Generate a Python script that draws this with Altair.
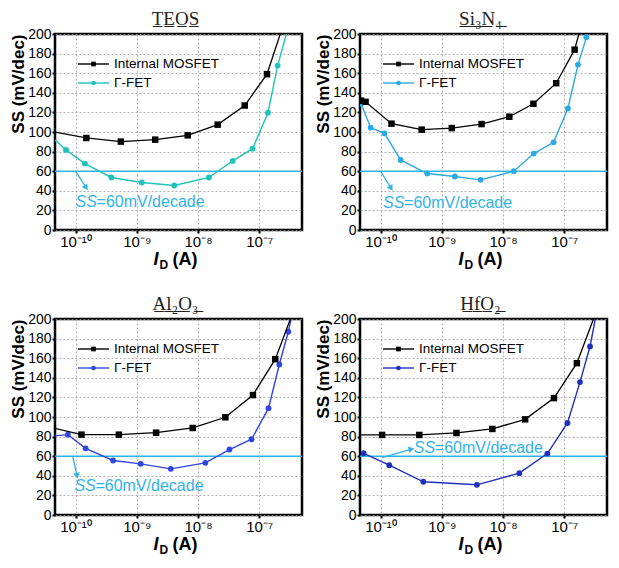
import altair as alt
import pandas as pd

# ---------------- data ----------------
X_DOMAIN = [4.62e-11, 5.0e-7]
Y_DOMAIN = [0, 200]
x_tick_values = [1e-10, 1e-9, 1e-8, 1e-7]
x_tick_labels = ["10⁻¹⁰", "10⁻⁹", "10⁻⁸", "10⁻⁷"]
y_tick_values = [0, 20, 40, 60, 80, 100, 120, 140, 160, 180, 200]

series_names = ["Internal MOSFET", "Γ-FET"]
panel_titles = ["T̲E̲O̲S̲", "S̲i̲₃̲N̲₄̲", "A̲l̲₂̲O̲₃̲", "H̲f̲O̲₂̲"]
ref_level = 60
ref_text_a = "SS"
ref_text_b = "=60mV/decade"

# TEOS
teos_mos_x = [3.0e-11, 1.5e-10, 5.5e-10, 2.0e-9, 6.8e-9, 2.1e-8, 5.8e-8, 1.34e-7, 2.65e-7]
teos_mos_y = [102, 93.9, 90.2, 92.2, 96.6, 107.5, 127, 159, 215]
teos_fet_x = [2.8e-11, 7.0e-11, 1.42e-10, 3.85e-10, 1.21e-9, 4.1e-9, 1.51e-8, 3.7e-8, 7.8e-8, 1.39e-7, 2.0e-7, 3.24e-7]
teos_fet_y = [104, 81.7, 67.8, 53.6, 48.5, 45.4, 53.6, 70.5, 83, 119.7, 167.8, 215]

# Si3N4
si_mos_x = [4.8e-11, 5.7e-11, 1.51e-10, 4.7e-10, 1.46e-9, 4.47e-9, 1.27e-8, 3.14e-8, 7.4e-8, 1.48e-7, 2.04e-7]
si_mos_y = [132, 130.8, 108.5, 102.4, 104, 108.1, 115.6, 128.8, 149.8, 184, 216]
si_fet_x = [4.8e-11, 6.9e-11, 1.16e-10, 2.13e-10, 5.8e-10, 1.63e-9, 4.3e-9, 1.5e-8, 3.18e-8, 6.7e-8, 1.15e-7, 1.68e-7, 2.3e-7, 2.82e-7]
si_fet_y = [129, 104.4, 98.6, 71.5, 57.6, 54.6, 51.2, 60, 78, 89.5, 124, 168.8, 196.6, 215]

# Al2O3
al_mos_x = [2.8e-11, 1.25e-10, 5.1e-10, 2.07e-9, 8.2e-9, 2.8e-8, 7.9e-8, 1.83e-7, 3.98e-7]
al_mos_y = [91.5, 82, 82, 84, 88.8, 99.7, 122.4, 159, 215]
al_fet_x = [2.8e-11, 7.5e-11, 1.46e-10, 4.1e-10, 1.16e-9, 3.6e-9, 1.32e-8, 3.27e-8, 7.5e-8, 1.42e-7, 2.13e-7, 2.99e-7, 3.8e-7]
al_fet_y = [79.5, 82, 68, 55.6, 52.2, 47.1, 53.2, 66.8, 77.3, 109, 153.6, 187, 217]

# HfO2
hf_mos_x = [2.8e-11, 1.06e-10, 4.3e-10, 1.74e-9, 6.7e-9, 2.3e-8, 6.8e-8, 1.61e-7, 3.7e-7]
hf_mos_y = [81.7, 81.7, 81.7, 83.7, 87.8, 97.6, 119.3, 154.9, 215]
hf_fet_x = [5.3e-11, 1.39e-10, 5.0e-10, 3.75e-9, 1.85e-8, 5.3e-8, 1.13e-7, 1.81e-7, 2.64e-7, 3.63e-7]
hf_fet_y = [63, 50.8, 33.9, 30.8, 42.7, 62.7, 93.9, 135.6, 171.9, 217]

# annotation arrows (start x, start y, end x, end y) and text anchor (x, y)
arrows = [
    [1.0e-10, 60, 1.46e-10, 44],
    [1.0e-10, 60, 1.46e-10, 43.4],
    [9.0e-11, 59.7, 1.05e-10, 41],
    [1.06e-10, 58.6, 3.1e-10, 67],
]
texts = [
    [1.0e-10, 28.8],
    [1.1e-10, 28],
    [9.6e-11, 29.8],
    [3.5e-10, 68.8],
]

# ---------------- styles ----------------
FET_COLORS = ["#20c2bb", "#2aa9e2", "#2f46e0", "#1f30bd"]
REF_COLOR = "#2fb3e6"
ARROW_ANGLES = [148, 148, 167, 74]
W, H = 247, 196
SANS = "Liberation Sans"
SERIF = "Liberation Serif"

label_expr = ""
for v, lab in zip(x_tick_values[:-1], x_tick_labels[:-1]):
    label_expr += f"datum.value < {v * 3:g} ? '{lab}' : "
label_expr += f"'{x_tick_labels[-1]}'"


def panel(idx, mos_x, mos_y, fet_x, fet_y):
    color = FET_COLORS[idx]
    xs = alt.Scale(type="log", domain=X_DOMAIN)
    ys = alt.Scale(domain=Y_DOMAIN, nice=False)
    X = alt.X("x:Q", scale=xs, axis=alt.Axis(values=x_tick_values, labelExpr=label_expr,
                                             title=None, grid=True))
    Y = alt.Y("y:Q", scale=ys, axis=alt.Axis(values=y_tick_values, title="SS (mV/dec)",
                                             titleAnchor="end", grid=True))
    mos = pd.DataFrame({"x": mos_x, "y": mos_y})
    fet = pd.DataFrame({"x": fet_x, "y": fet_y})
    a = arrows[idx]
    arr = pd.DataFrame({"x": [a[0]], "y": [a[1]], "x2": [a[2]], "y2": [a[3]]})
    arr_end = pd.DataFrame({"x": [a[2]], "y": [a[3]]})
    t = texts[idx]
    txt = pd.DataFrame({"x": [t[0]], "y": [t[1]]})
    ref = pd.DataFrame({"y": [ref_level]})
    one = pd.DataFrame({"a": [0]})

    layers = []
    layers.append(alt.Chart(ref).mark_rule(color=REF_COLOR, strokeWidth=1.5).encode(y=Y))
    layers.append(alt.Chart(arr).mark_rule(color=REF_COLOR, strokeWidth=1.3).encode(
        x=X, y=Y, x2="x2:Q", y2="y2:Q"))
    layers.append(alt.Chart(arr_end).mark_point(shape="triangle", filled=True, opacity=1,
                                                size=45, angle=ARROW_ANGLES[idx],
                                                color=REF_COLOR).encode(x=X, y=Y))
    layers.append(alt.Chart(txt).mark_text(align="left", baseline="middle", font=SANS,
                                           fontSize=16, fontStyle="italic",
                                           color=REF_COLOR).encode(x=X, y=Y, text=alt.value(ref_text_a)))
    layers.append(alt.Chart(txt).mark_text(align="left", baseline="middle", font=SANS,
                                           fontSize=16, dx=21,
                                           color=REF_COLOR).encode(x=X, y=Y, text=alt.value(ref_text_b)))
    # series
    layers.append(alt.Chart(fet).mark_line(color=color, strokeWidth=1.4, clip=True).encode(x=X, y=Y))
    layers.append(alt.Chart(fet).mark_point(shape="circle", filled=True, opacity=1, size=34,
                                            color=color, clip=True).encode(x=X, y=Y))
    layers.append(alt.Chart(mos).mark_line(color="black", strokeWidth=1.3, clip=True).encode(x=X, y=Y))
    layers.append(alt.Chart(mos).mark_point(shape="square", filled=True, opacity=1, size=42,
                                            color="black", clip=True).encode(x=X, y=Y))
    # in-plot legend
    for k, (nm, col, shp) in enumerate(zip(series_names, ["black", color], ["square", "circle"])):
        yy = 30 + 19 * k
        layers.append(alt.Chart(one).mark_rule(color=col, strokeWidth=1.4).encode(
            x=alt.value(23), x2=alt.value(54), y=alt.value(yy)))
        layers.append(alt.Chart(one).mark_point(shape=shp, filled=True, opacity=1, size=22,
                                                color=col).encode(x=alt.value(38.5), y=alt.value(yy)))
        layers.append(alt.Chart(one).mark_text(align="left", baseline="middle", font=SANS,
                                               fontSize=13.5, color="black").encode(
            x=alt.value(59), y=alt.value(yy), text=alt.value(nm)))
    # panel title (serif, underlined)
    layers.append(alt.Chart(one).mark_text(align="center", baseline="alphabetic", font=SERIF,
                                           fontSize=19, color="#222222").encode(
        x=alt.value(W / 2 - 3), y=alt.value(-9), text=alt.value(panel_titles[idx])))
    # x-axis title  I_D (A)
    ty = H + 29
    layers.append(alt.Chart(one).mark_text(align="left", baseline="alphabetic", font=SANS,
                                           fontSize=18, fontWeight="bold", fontStyle="italic",
                                           color="black").encode(
        x=alt.value(W / 2 - 25), y=alt.value(ty + 6), text=alt.value("I")))
    layers.append(alt.Chart(one).mark_text(align="left", baseline="alphabetic", font=SANS,
                                           fontSize=12, fontWeight="bold",
                                           color="black").encode(
        x=alt.value(W / 2 - 19), y=alt.value(ty + 10), text=alt.value("D")))
    layers.append(alt.Chart(one).mark_text(align="left", baseline="alphabetic", font=SANS,
                                           fontSize=18, fontWeight="bold",
                                           color="black").encode(
        x=alt.value(W / 2 - 6), y=alt.value(ty + 6), text=alt.value("(A)")))

    return alt.layer(*layers).properties(width=W, height=H)


p1 = panel(0, teos_mos_x, teos_mos_y, teos_fet_x, teos_fet_y)
p2 = panel(1, si_mos_x, si_mos_y, si_fet_x, si_fet_y)
p3 = panel(2, al_mos_x, al_mos_y, al_fet_x, al_fet_y)
p4 = panel(3, hf_mos_x, hf_mos_y, hf_fet_x, hf_fet_y)

chart = alt.vconcat(
    alt.hconcat(p1, p2, spacing=9),
    alt.hconcat(p3, p4, spacing=9),
    spacing=20,
).properties(
    padding={"left": 0, "top": 0, "right": 0, "bottom": 0}
).configure_view(
    stroke="black", strokeWidth=2.5
).configure_axis(
    domain=False,
    labelFont=SANS, labelColor="black", labelPadding=1,
    tickColor="black", tickWidth=2, tickSize=3,
    gridColor="#9a9a9a", gridDash=[2, 2], gridWidth=0.8,
    titleFont=SANS, titleFontSize=17, titleFontWeight="bold", titleColor="black",
    titlePadding=0,
).configure_axisY(
    labelFontSize=14
).configure_axisX(
    labelFontSize=15
)

chart.save("out.html", embed_options={"renderer": "svg", "actions": False})
